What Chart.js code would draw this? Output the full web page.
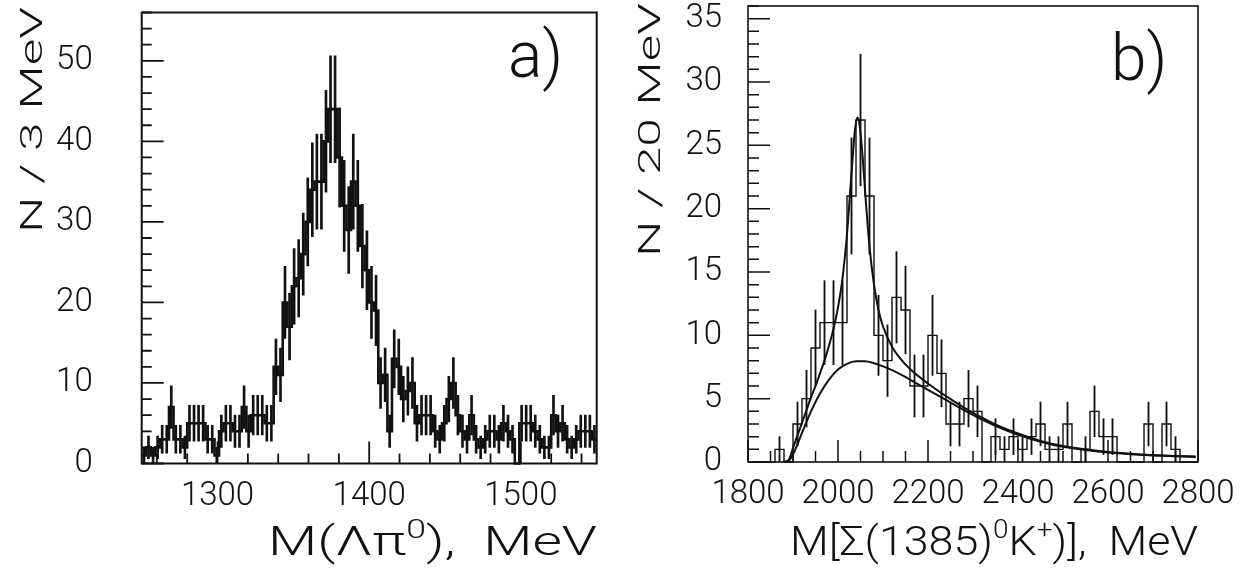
<!DOCTYPE html>
<html>
<head>
<meta charset="utf-8">
<script src="https://cdn.jsdelivr.net/npm/chart.js@4.4.1/dist/chart.umd.min.js"></script>
<style>
  html, body { margin: 0; padding: 0; background: #fff; width: 1249px; height: 569px; overflow: hidden; }
  .panel { position: absolute; top: 0; }
  #wrapA { left: 0; width: 625px; height: 569px; }
  #wrapB { left: 625px; width: 624px; height: 569px; }
</style>
</head>
<body>
<div id="wrapA" class="panel"><canvas id="chartA" width="625" height="569"></canvas></div>
<div id="wrapB" class="panel"><canvas id="chartB" width="624" height="569"></canvas></div>
<script>
// ---- Panel a: M(Λπ0) spectrum, 3 MeV bins ----
const massStartA = 1250;
const binWidthA = 3;
const countsA = [
  1, 2, 1, 2, 3, 3, 7, 3, 3, 2,
  5, 5, 5, 5, 3, 3, 1, 4, 5, 5,
  4, 4, 7, 4, 6, 6, 6, 5, 5, 12,
  11, 20, 17, 22, 23, 26, 30, 34, 35, 35,
  40, 44, 44, 38, 32, 29, 35, 32, 27, 24,
  20, 19, 10, 11, 4, 13, 12, 8, 9, 10,
  5, 6, 6, 6, 4, 3, 5, 8, 10, 6,
  4, 3, 6, 3, 2, 3, 4, 4, 3, 5,
  4, 3, 0, 5, 5, 5, 4, 3, 2, 2,
  6, 4, 5, 3, 2, 3, 4, 4, 4, 3
];
const xTicksA = [1300, 1400, 1500];
const yTicksA = [0, 10, 20, 30, 40, 50];

// ---- Panel b: M[Σ(1385)0K+] spectrum, 20 MeV bins ----
const massStartB = 1800;
const binWidthB = 20;
const countsB = [
  0, 0, 0, 1, 0, 3, 5, 9, 11, 11,
  11, 21, 27, 21, 10, 8, 13, 12, 6, 6,
  10, 7, 3, 3, 5, 4, 0, 2, 1, 2,
  1, 2, 3, 1, 1, 3, 0, 1, 4, 2,
  2, 0, 0, 0, 3, 0, 3, 1, 0, 0
];
const xTicksB = [1800, 2000, 2200, 2400, 2600, 2800];
const yTicksB = [0, 5, 10, 15, 20, 25, 30, 35];

// fitted curves: signal + background, and background alone
const fitMassB  = [1878, 1890, 1900, 1910, 1920, 1930, 1940, 1950, 1960, 1970, 1980, 1990, 2000, 2010, 2020, 2030, 2038, 2043, 2048, 2055, 2062, 2070, 2080, 2090, 2100, 2120, 2140, 2160, 2200, 2240, 2280, 2320, 2360, 2400, 2450, 2500, 2550, 2600, 2650, 2700, 2750, 2795];
const fitTotalB = [0, 0.15, 1.1, 2.1, 3.1, 4.1, 5.1, 6.0, 7.0, 8.0, 9.2, 10.5, 12.2, 14.5, 18.0, 22.8, 26.3, 27.2, 26.6, 24.0, 20.5, 17.0, 14.0, 12.0, 10.7, 9.1, 8.1, 7.35, 6.2, 5.2, 4.3, 3.5, 2.8, 2.25, 1.67, 1.27, 1.0, 0.79, 0.65, 0.55, 0.48, 0.43];
const bgMassB   = [1878, 1890, 1900, 1910, 1920, 1940, 1960, 1980, 2000, 2020, 2040, 2060, 2080, 2100, 2120, 2140, 2160, 2200, 2240, 2280, 2320, 2360, 2400, 2450, 2500, 2550, 2600, 2650, 2700, 2750, 2795];
const bgB       = [0, 0.1, 0.6, 1.4, 2.3, 4.0, 5.4, 6.5, 7.3, 7.75, 7.95, 7.95, 7.8, 7.55, 7.25, 6.9, 6.5, 5.7, 4.9, 4.1, 3.35, 2.7, 2.15, 1.6, 1.2, 0.95, 0.75, 0.62, 0.52, 0.45, 0.4];

const INK = '#111';
const FONT_FAMILY = 'Roboto, "Liberation Sans", sans-serif';
const FONT_WEIGHT = '300';

// histogram outline: one point per bin low edge plus the closing edge
function stepPoints(start, width, counts) {
  const pts = counts.map((n, i) => ({ x: start + i * width, y: n }));
  pts.push({ x: start + counts.length * width, y: counts[counts.length - 1] });
  return pts;
}
// statistical error bars at bin centres, N ± sqrt(N)
function errorPoints(start, width, counts) {
  return counts.map((n, i) => ({ x: start + (i + 0.5) * width, y: [n - Math.sqrt(n), n + Math.sqrt(n)] }));
}
function curvePoints(xs, ys) {
  return xs.map((x, i) => ({ x, y: ys[i] }));
}
// tick positions between lo and hi at a given step
function tickValues(lo, hi, step) {
  const out = [];
  const first = Math.ceil(lo / step - 1e-9);
  const last = Math.floor(hi / step + 1e-9);
  for (let k = first; k <= last; k++) out.push(k * step);
  return out;
}

// text runs with superscripts, stretched along the run to a given length
function drawRun(ctx, parts, cfg) {
  const base = `${FONT_WEIGHT} ${cfg.size}px ${FONT_FAMILY}`;
  const small = `${FONT_WEIGHT} ${Math.round(cfg.size * 0.62)}px ${FONT_FAMILY}`;
  let total = 0;
  const widths = parts.map(p => {
    ctx.font = p.sup ? small : base;
    const w = ctx.measureText(p.text).width;
    total += w;
    return w;
  });
  ctx.save();
  ctx.fillStyle = INK;
  ctx.textBaseline = 'alphabetic';
  ctx.textAlign = 'left';
  ctx.translate(cfg.x, cfg.y);
  if (cfg.angle) ctx.rotate(cfg.angle);
  if (cfg.length) ctx.scale(cfg.length / total, 1);
  let pos = 0;
  parts.forEach((p, i) => {
    ctx.font = p.sup ? small : base;
    ctx.fillText(p.text, pos, p.sup ? -cfg.size * 0.42 : 0);
    pos += widths[i];
  });
  ctx.restore();
}

// frame, inward tick marks, axis titles and panel tag
function panelDecor(cfg) {
  return {
    id: 'panelDecor',
    afterDraw(chart) {
      const ctx = chart.ctx;
      const a = chart.chartArea;
      const sx = chart.scales.x;
      const sy = chart.scales.y;
      const t = cfg.marks;
      ctx.save();
      ctx.setLineDash([]);
      ctx.strokeStyle = INK;
      ctx.lineWidth = t.tickWidth;
      ctx.beginPath();
      const addX = (vals, len) => vals.forEach(v => {
        const p = sx.getPixelForValue(v);
        ctx.moveTo(p, a.bottom);
        ctx.lineTo(p, a.bottom - len);
      });
      const addY = (vals, len) => vals.forEach(v => {
        const p = sy.getPixelForValue(v);
        ctx.moveTo(a.left, p);
        ctx.lineTo(a.left + len, p);
      });
      addX(tickValues(cfg.xRange[0], cfg.xRange[1], t.xMinor), t.minorLen);
      addX(tickValues(cfg.xRange[0], cfg.xRange[1], t.xMajor), t.majorLen);
      addY(tickValues(0, cfg.yMax, t.yMinor), t.minorLen);
      addY(tickValues(0, cfg.yMax, t.yMajor), t.majorLen);
      ctx.stroke();
      ctx.lineWidth = t.frameWidth;
      ctx.strokeRect(a.left, a.top, a.right - a.left, a.bottom - a.top);
      ctx.restore();
      const txt = cfg.text;
      drawRun(ctx, txt.yTitle.parts, txt.yTitle);
      drawRun(ctx, txt.xTitle.parts, txt.xTitle);
      drawRun(ctx, [{ text: txt.tag.text }], txt.tag);
    }
  };
}

const tickFont = { family: FONT_FAMILY, size: 33, weight: FONT_WEIGHT };

function makeChart(id, cfg) {
  return new Chart(document.getElementById(id), {
    type: 'line',
    data: {
      datasets: [
        ...cfg.curves.map(c => ({
          type: 'line', data: c, borderColor: INK, borderWidth: 2, pointRadius: 0,
          fill: false, cubicInterpolationMode: 'monotone'
        })),
        {
          type: 'line', data: cfg.hist, stepped: true, borderColor: INK,
          borderWidth: cfg.histWidth, pointRadius: 0, fill: false, clip: 3
        },
        {
          type: 'bar', data: cfg.errors, backgroundColor: INK, borderWidth: 0,
          barThickness: cfg.errWidth, grouped: false
        }
      ]
    },
    options: {
      responsive: false,
      animation: false,
      devicePixelRatio: 1,
      layout: { padding: { top: cfg.area.top, right: cfg.canvasW - cfg.area.right, left: 0, bottom: 0 } },
      plugins: {
        legend: { display: false },
        tooltip: { enabled: false }
      },
      scales: {
        x: {
          type: 'linear', min: cfg.xRange[0], max: cfg.xRange[1], offset: false,
          grid: { display: false }, border: { display: false },
          afterBuildTicks: s => { s.ticks = cfg.xTicks.map(v => ({ value: v })); },
          afterFit: s => { s.height = 569 - cfg.area.bottom; s.paddingLeft = 0; s.paddingRight = 0; },
          ticks: { autoSkip: false, maxRotation: 0, minRotation: 0, padding: cfg.xPad, color: INK, font: tickFont,
                   callback: v => String(v) }
        },
        y: {
          type: 'linear', min: 0, max: cfg.yMax,
          grid: { display: false }, border: { display: false },
          afterBuildTicks: s => { s.ticks = cfg.yTicks.map(v => ({ value: v })); },
          afterFit: s => { s.width = cfg.area.left; s.paddingTop = 0; s.paddingBottom = 0; },
          ticks: { autoSkip: false, padding: cfg.yPad, color: INK, font: tickFont,
                   callback: v => String(v) }
        }
      }
    },
    plugins: [panelDecor(cfg)]
  });
}

makeChart('chartA', {
  canvasW: 625,
  area: { left: 141.7, right: 596.7, top: 12.5, bottom: 463.5 },
  xRange: [1250, 1550], yMax: 56,
  xTicks: xTicksA, yTicks: yTicksA,
  xPad: 5, yPad: 41,
  hist: stepPoints(massStartA, binWidthA, countsA),
  errors: errorPoints(massStartA, binWidthA, countsA),
  histWidth: 2.6, errWidth: 2,
  curves: [],
  marks: { xMajor: 100, xMinor: 20, yMajor: 10, yMinor: 2, majorLen: 22, minorLen: 10, tickWidth: 1.8, frameWidth: 2 },
  text: {
    yTitle: { parts: [{ text: 'N / 3 MeV' }], x: 42, y: 233, angle: -Math.PI / 2, size: 31, length: 226 },
    xTitle: { parts: [{ text: 'M(Λπ' }, { text: '0', sup: true }, { text: '),  MeV' }], x: 268, y: 555, size: 40, length: 329 },
    tag: { text: 'a)', x: 508, y: 77, size: 64 }
  }
});

makeChart('chartB', {
  canvasW: 624,
  area: { left: 123, right: 573, top: 6, bottom: 462 },
  xRange: [1800, 2800], yMax: 36,
  xTicks: xTicksB, yTicks: yTicksB,
  xPad: 5, yPad: 18,
  hist: stepPoints(massStartB, binWidthB, countsB),
  errors: errorPoints(massStartB, binWidthB, countsB),
  histWidth: 1.4, errWidth: 1.2,
  curves: [curvePoints(fitMassB, fitTotalB), curvePoints(bgMassB, bgB)],
  marks: { xMajor: 200, xMinor: 50, yMajor: 5, yMinor: 1, majorLen: 22, minorLen: 11, tickWidth: 1.5, frameWidth: 1.6 },
  text: {
    yTitle: { parts: [{ text: 'N / 20 MeV' }], x: 35, y: 257, angle: -Math.PI / 2, size: 31, length: 254 },
    xTitle: { parts: [{ text: 'M[Σ(1385)' }, { text: '0', sup: true }, { text: 'K' }, { text: '+', sup: true }, { text: ')],  MeV' }], x: 165, y: 555, size: 40, length: 408 },
    tag: { text: 'b)', x: 486, y: 80, size: 64 }
  }
});
</script>
</body>
</html>
